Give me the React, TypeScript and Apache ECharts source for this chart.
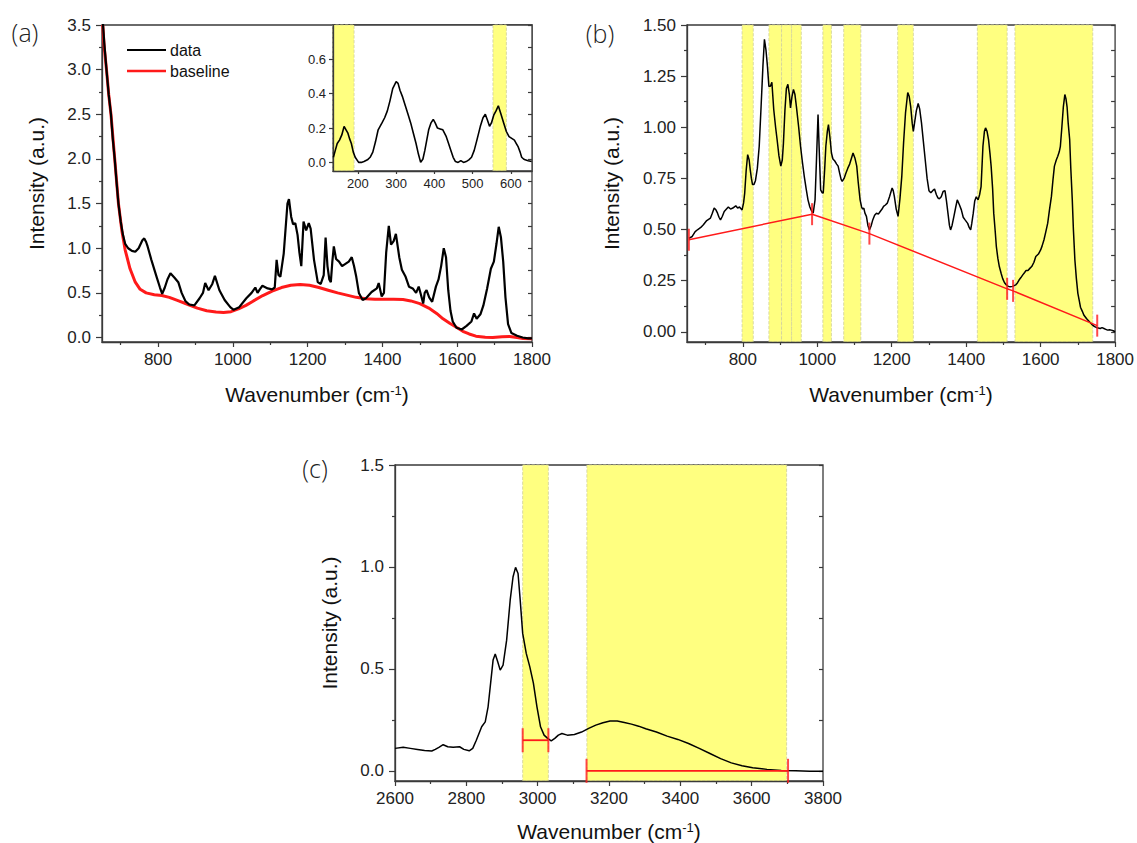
import React, { useEffect, useRef } from 'react';
import * as echarts from 'echarts';

const FONT = '"Liberation Sans", Arial, Helvetica, sans-serif';
const AXIS = '#3a3a3a';
const LABEL = '#222222';
const YELLOW = '#ffff80';
const RED = '#ff1a1a';

// ---------------- Panel (a) ----------------
const aData: [number, number][] = [
  [652, 3.55], [656, 3.3], [662, 3.0], [668, 2.72], [674, 2.5], [679, 2.22], [684, 2.0], [689, 1.74], [694, 1.5],
  [700, 1.3], [706, 1.15], [712, 1.05], [720, 1.0], [730, 0.97], [739, 0.96], [748, 1.0], [758, 1.09], [763, 1.11],
  [768, 1.07], [772, 1.02], [782, 0.87], [796, 0.68], [805, 0.56], [811, 0.49], [818, 0.56], [825, 0.65], [833, 0.72],
  [844, 0.67], [854, 0.62], [863, 0.5], [873, 0.41], [883, 0.37], [897, 0.36], [911, 0.44], [920, 0.5], [926, 0.61],
  [935, 0.53], [945, 0.6], [952, 0.69], [964, 0.53], [978, 0.42], [993, 0.34], [1002, 0.31], [1017, 0.34], [1036, 0.44],
  [1050, 0.5], [1060, 0.56], [1066, 0.5], [1072, 0.54], [1079, 0.58], [1093, 0.55], [1105, 0.54], [1112, 0.56],
  [1117, 0.87], [1122, 0.7], [1127, 0.68], [1136, 0.94], [1146, 1.5], [1150, 1.55], [1156, 1.35], [1161, 1.27],
  [1167, 1.28], [1173, 1.15], [1178, 0.95], [1183, 0.8], [1189, 1.3], [1196, 1.2], [1203, 1.28], [1208, 1.22],
  [1217, 0.87], [1227, 0.62], [1235, 0.6], [1243, 0.7], [1248, 1.12], [1253, 0.8], [1258, 0.65], [1262, 0.62],
  [1266, 0.85], [1270, 1.02], [1276, 0.88], [1284, 0.85], [1292, 0.8], [1299, 0.82], [1310, 0.85], [1318, 0.9],
  [1324, 0.8], [1330, 0.68], [1337, 0.5], [1347, 0.42], [1356, 0.44], [1371, 0.51], [1385, 0.55], [1390, 0.61],
  [1398, 0.46], [1404, 0.5], [1410, 0.95], [1417, 1.25], [1423, 1.04], [1430, 1.08], [1436, 1.16], [1445, 0.9],
  [1452, 0.76], [1462, 0.68], [1471, 0.57], [1481, 0.55], [1490, 0.5], [1497, 0.57], [1503, 0.48], [1509, 0.38],
  [1513, 0.5], [1518, 0.53], [1525, 0.45], [1533, 0.4], [1543, 0.57], [1550, 0.65], [1557, 0.8], [1564, 1.0],
  [1570, 0.9], [1576, 0.53], [1582, 0.3], [1588, 0.18], [1598, 0.11], [1612, 0.09], [1625, 0.13], [1638, 0.18],
  [1645, 0.27], [1652, 0.21], [1662, 0.26], [1670, 0.36], [1680, 0.55], [1690, 0.77], [1698, 0.85], [1705, 1.05],
  [1711, 1.24], [1717, 1.12], [1723, 0.85], [1729, 0.45], [1736, 0.15], [1745, 0.05], [1760, 0.02], [1775, 0.0],
  [1790, -0.01], [1800, -0.01],
];
const aBaseline: [number, number][] = [
  [652, 3.5], [656, 3.25], [662, 3.0], [668, 2.72], [674, 2.5], [684, 2.0], [694, 1.5], [703, 1.2], [712, 0.98],
  [725, 0.77], [739, 0.62], [752, 0.54], [768, 0.5], [790, 0.48], [810, 0.47], [830, 0.45], [855, 0.41], [880, 0.37],
  [905, 0.33], [930, 0.3], [955, 0.285], [975, 0.28], [995, 0.29], [1015, 0.32], [1035, 0.36], [1055, 0.41],
  [1080, 0.47], [1105, 0.52], [1130, 0.56], [1155, 0.585], [1180, 0.595], [1205, 0.585], [1230, 0.56], [1255, 0.53],
  [1280, 0.5], [1305, 0.475], [1330, 0.45], [1355, 0.435], [1380, 0.43], [1405, 0.43], [1430, 0.43], [1455, 0.425],
  [1476, 0.41], [1500, 0.38], [1524, 0.33], [1545, 0.27], [1562, 0.21], [1580, 0.16], [1600, 0.11], [1615, 0.07],
  [1632, 0.04], [1650, 0.015], [1675, 0.003], [1695, 0.0], [1720, 0.01], [1740, 0.012], [1760, 0.0], [1776, -0.01],
  [1800, -0.015],
];
const aXMajor = [800, 1000, 1200, 1400, 1600, 1800];
const aXMinor = [700, 900, 1100, 1300, 1500, 1700];
const aYMajor = [0, 0.5, 1, 1.5, 2, 2.5, 3, 3.5];
const aYMinor = [0.25, 0.75, 1.25, 1.75, 2.25, 2.75, 3.25];

// Inset of (a)
const insetData: [number, number][] = [
  [136, 0.03], [141, 0.07], [146, 0.11], [152, 0.13], [158, 0.16], [164, 0.21], [169, 0.19], [174, 0.17], [178, 0.14],
  [183, 0.11], [188, 0.06], [193, 0.03], [202, 0.0], [209, 0.0], [216, 0.005], [225, 0.015], [232, 0.03], [239, 0.06],
  [246, 0.12], [253, 0.19], [263, 0.23], [270, 0.26], [277, 0.3], [284, 0.36], [291, 0.43], [300, 0.47], [305, 0.46],
  [310, 0.42], [317, 0.38], [324, 0.33], [331, 0.28], [338, 0.23], [345, 0.17], [352, 0.11], [358, 0.05], [364, 0.0],
  [370, 0.02], [375, 0.07], [380, 0.13], [385, 0.19], [391, 0.23], [397, 0.25], [402, 0.23], [408, 0.2], [415, 0.195],
  [422, 0.19], [431, 0.15], [437, 0.11], [443, 0.07], [449, 0.03], [455, 0.005], [462, 0.0], [469, 0.01], [476, 0.0],
  [483, 0.005], [490, 0.015], [497, 0.03], [504, 0.07], [511, 0.13], [520, 0.21], [527, 0.26], [533, 0.28], [538, 0.25],
  [544, 0.21], [549, 0.23], [555, 0.275], [561, 0.3], [567, 0.33], [574, 0.28], [581, 0.23], [588, 0.18], [595, 0.15],
  [602, 0.14], [609, 0.13], [614, 0.11], [619, 0.09], [624, 0.06], [628, 0.03], [633, 0.02], [637, 0.015], [645, 0.01],
  [654, 0.005],
];
const insetBands: [number, number][] = [[135, 190], [553, 588]];
const insetXMajor = [200, 300, 400, 500, 600];
const insetYMajor = [0, 0.2, 0.4, 0.6];

// ---------------- Panel (b) ----------------
const bData: [number, number][] = [
  [655, 0.457], [664, 0.466], [672, 0.49], [679, 0.5], [687, 0.51], [694, 0.523], [703, 0.544], [708, 0.55], [713, 0.556],
  [718, 0.58], [723, 0.605], [728, 0.595], [732, 0.58], [736, 0.56], [740, 0.547], [745, 0.565], [750, 0.588], [756, 0.6],
  [761, 0.61], [767, 0.6], [773, 0.605], [781, 0.616], [786, 0.605], [791, 0.61], [798, 0.596], [802, 0.63], [805, 0.678],
  [809, 0.79], [813, 0.866], [817, 0.84], [820, 0.79], [823, 0.75], [826, 0.72], [830, 0.72], [834, 0.74], [839, 0.8],
  [844, 0.907], [849, 1.1], [854, 1.3], [858, 1.43], [862, 1.38], [866, 1.3], [870, 1.2], [874, 1.2], [878, 1.22],
  [883, 1.087], [888, 1.0], [892, 0.94], [897, 0.86], [902, 0.81], [906, 0.84], [909, 0.92], [913, 1.08], [917, 1.19],
  [921, 1.21], [925, 1.16], [928, 1.095], [932, 1.15], [936, 1.185], [940, 1.16], [944, 1.1], [950, 1.0], [955, 0.907],
  [960, 0.83], [965, 0.76], [970, 0.7], [975, 0.645], [980, 0.61], [985, 0.59], [989, 0.58], [994, 0.645], [998, 0.85],
  [1002, 1.062], [1005, 0.9], [1009, 0.694], [1013, 0.68], [1016, 0.678], [1020, 0.8], [1023, 0.907], [1027, 0.98],
  [1030, 1.013], [1034, 0.95], [1038, 0.874], [1042, 0.845], [1047, 0.835], [1052, 0.82], [1056, 0.81], [1060, 0.776],
  [1064, 0.745], [1067, 0.735], [1072, 0.75], [1077, 0.776], [1082, 0.8], [1087, 0.82], [1092, 0.85], [1096, 0.874],
  [1101, 0.85], [1106, 0.81], [1110, 0.73], [1115, 0.645], [1119, 0.61], [1122, 0.6], [1125, 0.605], [1128, 0.58],
  [1132, 0.564], [1136, 0.52], [1140, 0.498], [1145, 0.52], [1149, 0.547], [1154, 0.57], [1159, 0.58], [1164, 0.575],
  [1169, 0.588], [1174, 0.6], [1178, 0.613], [1183, 0.62], [1188, 0.629], [1194, 0.66], [1201, 0.703], [1204, 0.69],
  [1207, 0.662], [1212, 0.6], [1217, 0.564], [1222, 0.65], [1227, 0.76], [1232, 0.93], [1237, 1.07], [1243, 1.17],
  [1247, 1.15], [1251, 1.1], [1255, 1.02], [1258, 0.98], [1262, 1.03], [1266, 1.08], [1271, 1.116], [1275, 1.09],
  [1280, 1.02], [1285, 0.93], [1290, 0.84], [1295, 0.75], [1300, 0.69], [1305, 0.68], [1310, 0.69], [1315, 0.698],
  [1320, 0.67], [1324, 0.655], [1328, 0.65], [1333, 0.66], [1338, 0.686], [1343, 0.69], [1347, 0.64], [1351, 0.58],
  [1355, 0.52], [1358, 0.498], [1362, 0.52], [1367, 0.564], [1372, 0.61], [1376, 0.645], [1382, 0.62], [1387, 0.596],
  [1392, 0.56], [1397, 0.547], [1404, 0.53], [1408, 0.51], [1412, 0.498], [1415, 0.53], [1419, 0.58], [1423, 0.64],
  [1427, 0.66], [1432, 0.645], [1436, 0.67], [1440, 0.71], [1445, 0.907], [1449, 0.98], [1452, 0.997], [1456, 0.98],
  [1460, 0.94], [1464, 0.87], [1467, 0.81], [1471, 0.7], [1474, 0.58], [1478, 0.49], [1481, 0.417], [1485, 0.36],
  [1489, 0.319], [1494, 0.285], [1498, 0.26], [1503, 0.24], [1508, 0.229], [1513, 0.222], [1518, 0.22], [1525, 0.222],
  [1533, 0.229], [1538, 0.24], [1542, 0.253], [1547, 0.265], [1552, 0.278], [1557, 0.29], [1561, 0.3], [1566, 0.3],
  [1571, 0.31], [1576, 0.319], [1582, 0.34], [1587, 0.368], [1594, 0.38], [1600, 0.4], [1604, 0.42], [1609, 0.45],
  [1614, 0.49], [1619, 0.531], [1624, 0.6], [1629, 0.662], [1633, 0.74], [1637, 0.81], [1642, 0.84], [1646, 0.858],
  [1650, 0.88], [1653, 0.907], [1657, 1.0], [1661, 1.1], [1665, 1.16], [1668, 1.14], [1671, 1.1], [1674, 1.02],
  [1678, 0.94], [1681, 0.8], [1685, 0.645], [1688, 0.5], [1692, 0.351], [1696, 0.26], [1700, 0.188], [1704, 0.15],
  [1707, 0.12], [1712, 0.1], [1716, 0.082], [1723, 0.065], [1731, 0.049], [1738, 0.035], [1745, 0.025], [1752, 0.02],
  [1760, 0.016], [1765, 0.02], [1770, 0.016], [1775, 0.012], [1780, 0.008], [1785, 0.01], [1790, 0.008], [1795, 0.005],
  [1800, 0.0],
];
const bBaselineX = [655, 986, 1140, 1510, 1526, 1752];
const bBaselineY = [0.45, 0.575, 0.48, 0.21, 0.2, 0.03];
const bBands: [number, number][] = [
  [798, 828], [870, 904], [904, 931], [931, 957], [1015, 1038], [1071, 1117], [1216, 1258], [1430, 1510], [1531, 1740],
];
const bXMajor = [800, 1000, 1200, 1400, 1600, 1800];
const bXMinor = [700, 900, 1100, 1300, 1500, 1700];
const bYMajor = [0, 0.25, 0.5, 0.75, 1, 1.25, 1.5];
const bYMinor = [0.125, 0.375, 0.625, 0.875, 1.125, 1.375];

// ---------------- Panel (c) ----------------
const cData: [number, number][] = [
  [2600, 0.11], [2623, 0.115], [2643, 0.11], [2663, 0.105], [2683, 0.1], [2703, 0.097], [2713, 0.105], [2723, 0.115],
  [2735, 0.128], [2748, 0.118], [2763, 0.115], [2781, 0.118], [2793, 0.105], [2808, 0.098], [2818, 0.11], [2828, 0.15],
  [2843, 0.216], [2853, 0.24], [2861, 0.314], [2869, 0.445], [2875, 0.543], [2881, 0.573], [2888, 0.535], [2895, 0.494],
  [2903, 0.518], [2913, 0.641], [2923, 0.838], [2931, 0.952], [2938, 0.998], [2945, 0.968], [2951, 0.838], [2958, 0.674],
  [2968, 0.576], [2978, 0.51], [2988, 0.43], [2998, 0.314], [3008, 0.216], [3018, 0.175], [3028, 0.159], [3038, 0.147],
  [3048, 0.159], [3058, 0.175], [3068, 0.183], [3083, 0.175], [3103, 0.178], [3123, 0.19], [3143, 0.208], [3163, 0.224],
  [3183, 0.236], [3203, 0.244], [3223, 0.244], [3243, 0.237], [3263, 0.229], [3283, 0.219], [3303, 0.206], [3333, 0.19],
  [3363, 0.17], [3393, 0.154], [3423, 0.134], [3453, 0.11], [3483, 0.085], [3513, 0.06], [3543, 0.039], [3573, 0.025],
  [3603, 0.015], [3643, 0.007], [3683, 0.002], [3723, 0.0], [3763, -0.002], [3800, -0.002],
];
const cBands: [number, number][] = [[2958, 3030], [3138, 3698]];
const cRangeStart = [2958, 3137];
const cRangeEnd = [3030, 3702];
const cRangeLevel = [0.15, 0.0];
const cXMajor = [2600, 2800, 3000, 3200, 3400, 3600, 3800];
const cXMinor = [2700, 2900, 3100, 3300, 3500, 3700];
const cYMajor = [0, 0.5, 1, 1.5];
const cYMinor = [0.25, 0.75, 1.25];

// ---------------- helpers ----------------
type Panel = {
  grid: number; xMin: number; xMax: number; yMin: number; yMax: number;
  xMajor: number[]; xMinor: number[]; yMajor: number[]; yMinor: number[];
  yDigits: number; labelSize: number; titles: boolean; xNameGap?: number; yNameGap?: number;
  rightTicks: boolean; yLabelMargin: number; xLabelMargin: number; majorLen: number; minorLen: number;
};

const TITLE_SIZE = 21;

function buildAxes(panels: Panel[]) {
  const xAxes: any[] = [];
  const yAxes: any[] = [];
  const idx: { x: number; y: number }[] = [];
  panels.forEach((p) => {
    idx.push({ x: xAxes.length, y: yAxes.length });
    const tickStyle = { color: AXIS, width: 1.2 };
    xAxes.push({
      gridIndex: p.grid, type: 'value', min: p.xMin, max: p.xMax, position: 'bottom',
      axisLine: { show: true, onZero: false, lineStyle: { color: AXIS, width: 1.3 } },
      axisTick: { show: true, customValues: p.xMajor, length: p.majorLen, lineStyle: tickStyle },
      axisLabel: {
        show: true, customValues: p.xMajor, margin: p.xLabelMargin, fontSize: p.labelSize, fontFamily: FONT, color: LABEL,
        formatter: (v: number) => String(Math.round(v)),
      },
      splitLine: { show: false },
      name: p.titles ? 'Wavenumber (cm{sup|-1})' : '',
      nameLocation: 'middle', nameGap: p.xNameGap,
      nameTextStyle: {
        fontSize: TITLE_SIZE, fontFamily: FONT, color: '#111',
        rich: { sup: { fontSize: 13, fontFamily: FONT, color: '#111', verticalAlign: 'top', padding: [0, 0, 8, 0] } },
      },
      z: 3,
    });
    if (p.xMinor.length) {
      xAxes.push({
        gridIndex: p.grid, type: 'value', min: p.xMin, max: p.xMax, position: 'bottom',
        axisLine: { show: false, onZero: false },
        axisTick: { show: true, customValues: p.xMinor, length: p.minorLen, lineStyle: tickStyle },
        axisLabel: { show: false }, splitLine: { show: false }, z: 3,
      });
    }
    yAxes.push({
      gridIndex: p.grid, type: 'value', min: p.yMin, max: p.yMax, position: 'left',
      axisLine: { show: true, onZero: false, lineStyle: { color: AXIS, width: 1.3 } },
      axisTick: { show: true, customValues: p.yMajor, length: p.majorLen + 1, lineStyle: tickStyle },
      axisLabel: {
        show: true, customValues: p.yMajor, margin: p.yLabelMargin, fontSize: p.labelSize, fontFamily: FONT, color: LABEL,
        formatter: (v: number) => v.toFixed(p.yDigits),
      },
      splitLine: { show: false },
      name: p.titles ? 'Intensity (a.u.)' : '',
      nameLocation: 'middle', nameGap: p.yNameGap,
      nameTextStyle: { fontSize: TITLE_SIZE, fontFamily: FONT, color: '#111' },
      z: 3,
    });
    if (p.yMinor.length) {
      yAxes.push({
        gridIndex: p.grid, type: 'value', min: p.yMin, max: p.yMax, position: 'left',
        axisLine: { show: false, onZero: false },
        axisTick: { show: true, customValues: p.yMinor, length: p.minorLen, lineStyle: tickStyle },
        axisLabel: { show: false }, splitLine: { show: false }, z: 3,
      });
    }
    if (p.rightTicks) {
      yAxes.push({
        gridIndex: p.grid, type: 'value', min: p.yMin, max: p.yMax, position: 'right',
        axisLine: { show: false, onZero: false },
        axisTick: {
          show: true, inside: true, length: 4, lineStyle: tickStyle,
          customValues: [...p.yMajor, ...p.yMinor].sort((a, b) => a - b),
        },
        axisLabel: { show: false }, splitLine: { show: false }, z: 3,
      });
    }
  });
  return { xAxes, yAxes, idx };
}

function bandSeries(bands: [number, number][], xi: number, yi: number) {
  return {
    type: 'line', xAxisIndex: xi, yAxisIndex: yi, data: [], z: 1, silent: true,
    markArea: {
      silent: true,
      itemStyle: { color: YELLOW, borderColor: '#cfcf9a', borderWidth: 0.8, borderType: 'dashed' },
      data: bands.map(([a, b]) => [{ xAxis: a }, { xAxis: b }]),
    },
  };
}

function lineSeries(data: [number, number][], xi: number, yi: number, color: string, width: number, z = 3) {
  return {
    type: 'line', xAxisIndex: xi, yAxisIndex: yi, data, showSymbol: false, symbol: 'none', z,
    lineStyle: { color, width }, silent: true,
  };
}

const panels: Panel[] = [
  { // (a)
    grid: 0, xMin: 650, xMax: 1800, yMin: -0.05, yMax: 3.5, xMajor: aXMajor, xMinor: aXMinor, yMajor: aYMajor, yMinor: aYMinor,
    yDigits: 1, labelSize: 17, titles: true, xNameGap: 42, yNameGap: 55, rightTicks: true, yLabelMargin: 11, xLabelMargin: 9,
    majorLen: 5, minorLen: 3,
  },
  { // inset
    grid: 1, xMin: 135, xMax: 655, yMin: -0.05, yMax: 0.8, xMajor: insetXMajor, xMinor: [], yMajor: insetYMajor, yMinor: [],
    yDigits: 1, labelSize: 13, titles: false, rightTicks: false, yLabelMargin: 7, xLabelMargin: 6, majorLen: 3, minorLen: 2,
  },
  { // (b)
    grid: 2, xMin: 650, xMax: 1800, yMin: -0.05, yMax: 1.5, xMajor: bXMajor, xMinor: bXMinor, yMajor: bYMajor, yMinor: bYMinor,
    yDigits: 2, labelSize: 17, titles: true, xNameGap: 42, yNameGap: 65, rightTicks: true, yLabelMargin: 11, xLabelMargin: 9,
    majorLen: 5, minorLen: 3,
  },
  { // (c)
    grid: 3, xMin: 2600, xMax: 3800, yMin: -0.05, yMax: 1.5, xMajor: cXMajor, xMinor: cXMinor, yMajor: cYMajor, yMinor: cYMinor,
    yDigits: 1, labelSize: 17, titles: true, xNameGap: 40, yNameGap: 55, rightTicks: true, yLabelMargin: 11, xLabelMargin: 9,
    majorLen: 5, minorLen: 3,
  },
];

export default function App() {
  const ref = useRef<HTMLDivElement>(null);
  useEffect(() => {
    if (!ref.current) return;
    const chart = echarts.init(ref.current, undefined, { renderer: 'svg' });
    const { xAxes, yAxes, idx } = buildAxes(panels);
    const [A, I, B, C] = idx;

    const series: any[] = [
      // (a)
      lineSeries(aBaseline, A.x, A.y, RED, 3, 3),
      lineSeries(aData, A.x, A.y, '#000', 2.2, 4),
      // inset
      bandSeries(insetBands, I.x, I.y),
      lineSeries(insetData, I.x, I.y, '#000', 1.6, 4),
      // (b)
      bandSeries(bBands, B.x, B.y),
      lineSeries(bData, B.x, B.y, '#000', 1.5, 4),
      lineSeries(bBaselineX.map((x, i) => [x, bBaselineY[i]] as [number, number]), B.x, B.y, RED, 1.5, 5),
      {
        type: 'scatter', xAxisIndex: B.x, yAxisIndex: B.y, symbol: 'rect', symbolSize: [2, 22], z: 6, silent: true,
        itemStyle: { color: RED }, data: bBaselineX.map((x, i) => [x, bBaselineY[i]]),
      },
      // (c)
      bandSeries(cBands, C.x, C.y),
      lineSeries(cData, C.x, C.y, '#000', 1.5, 4),
    ];
    cRangeStart.forEach((x0, i) => {
      const pts: [number, number][] = [[x0, cRangeLevel[i]], [cRangeEnd[i], cRangeLevel[i]]];
      series.push(lineSeries(pts, C.x, C.y, RED, 1.8, 5));
      series.push({
        type: 'scatter', xAxisIndex: C.x, yAxisIndex: C.y, symbol: 'rect', symbolSize: [2, 24], z: 6, silent: true,
        itemStyle: { color: RED }, data: pts,
      });
    });

    const panelLabel = (text: string, x: number, y: number) => ({
      type: 'text', x, y, z: 10,
      style: {
        text, fontSize: 25, fontFamily: '"Open Sans", "Noto Sans", sans-serif', fontWeight: 300, fill: '#222',
        align: 'center', verticalAlign: 'middle',
      },
    });

    chart.setOption({
      animation: false,
      backgroundColor: '#ffffff',
      grid: [
        { left: 102, top: 25, width: 430, height: 317, show: true, borderColor: AXIS, borderWidth: 1.3, backgroundColor: 'transparent' },
        { left: 333, top: 25, width: 199, height: 146, show: true, borderColor: AXIS, borderWidth: 1.3, backgroundColor: '#ffffff', z: 1 },
        { left: 687, top: 25, width: 429, height: 317, show: true, borderColor: AXIS, borderWidth: 1.3, backgroundColor: 'transparent' },
        { left: 395, top: 465, width: 428, height: 316, show: true, borderColor: AXIS, borderWidth: 1.3, backgroundColor: 'transparent' },
      ],
      xAxis: xAxes,
      yAxis: yAxes,
      series,
      graphic: [
        panelLabel('(a)', 25, 32),
        panelLabel('(b)', 600, 33),
        panelLabel('(c)', 315, 468),
        { type: 'line', z: 10, shape: { x1: 127, y1: 50, x2: 166, y2: 50 }, style: { stroke: '#000', lineWidth: 2 } },
        { type: 'line', z: 10, shape: { x1: 127, y1: 71, x2: 166, y2: 71 }, style: { stroke: RED, lineWidth: 2.5 } },
        { type: 'text', x: 170, y: 50, z: 10, style: { text: 'data', fontSize: 16, fontFamily: FONT, fill: '#111', verticalAlign: 'middle' } },
        { type: 'text', x: 170, y: 71, z: 10, style: { text: 'baseline', fontSize: 16, fontFamily: FONT, fill: '#111', verticalAlign: 'middle' } },
      ],
    });
    return () => chart.dispose();
  }, []);
  return <div ref={ref} style={{ position: 'absolute', left: 0, top: 0, width: 1137, height: 843, background: '#fff' }} />;
}
